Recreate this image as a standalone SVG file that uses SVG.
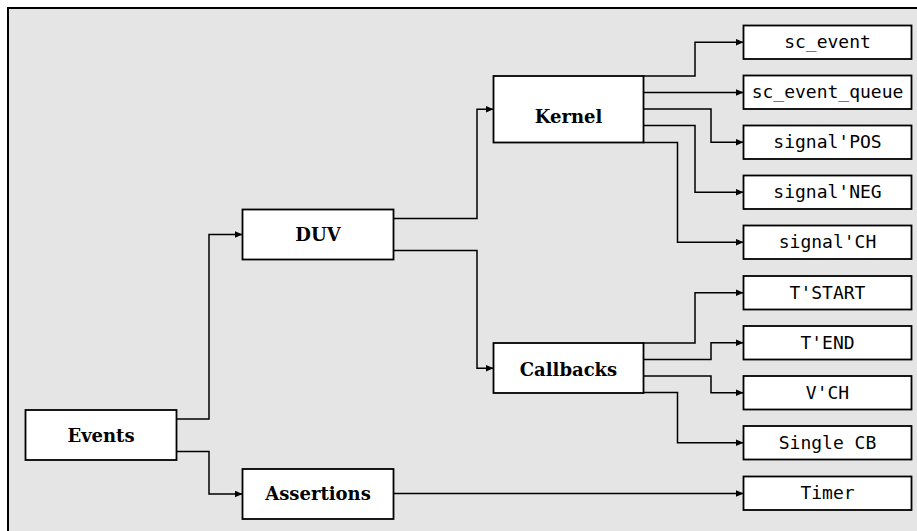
<svg xmlns="http://www.w3.org/2000/svg" width="917" height="531" viewBox="0 0 917 531">
<style>
.frame{fill:#e5e5e5;stroke:#000;stroke-width:2}
.box{fill:#fff;stroke:#000;stroke-width:1.8}
.lbl{font-family:"DejaVu Serif","Liberation Serif",serif;font-weight:bold;font-size:18px;text-anchor:middle;fill:#000}
.leaf{font-family:"DejaVu Sans Mono","Liberation Mono",monospace;font-size:18px;text-anchor:middle;fill:#000}
.c{fill:none;stroke:#000;stroke-width:1.5}
</style>
<defs>
<marker id="ah" markerUnits="userSpaceOnUse" markerWidth="9" markerHeight="8" refX="8" refY="3.5" orient="auto">
<path d="M0,0 L8,3.5 L0,7 z" fill="#000"/>
</marker>
</defs>
<rect class="frame" x="8" y="8" width="930" height="540"/>
<g id="connectors">
<path class="c" marker-end="url(#ah)" d="M176,419 H209 V234.5 H242.5"/>
<path class="c" marker-end="url(#ah)" d="M176,451.5 H209 V494 H242.5"/>
<path class="c" marker-end="url(#ah)" d="M393.5,218.5 H477 V109.3 H493.5"/>
<path class="c" marker-end="url(#ah)" d="M393.5,250.5 H477 V368.3 H493.5"/>
<path class="c" marker-end="url(#ah)" d="M393.5,493.5 H743.5"/>
<path class="c" marker-end="url(#ah)" d="M643.5,76 H695 V42.25 H743.5"/>
<path class="c" marker-end="url(#ah)" d="M643.5,92.5 H743.5"/>
<path class="c" marker-end="url(#ah)" d="M643.5,109 H711 V142.25 H743.5"/>
<path class="c" marker-end="url(#ah)" d="M643.5,125.5 H695 V192.25 H743.5"/>
<path class="c" marker-end="url(#ah)" d="M643.5,142.5 H677.5 V242.25 H743.5"/>
<path class="c" marker-end="url(#ah)" d="M643.5,343 H695 V292.75 H743.5"/>
<path class="c" marker-end="url(#ah)" d="M643.5,359.5 H711 V342.75 H743.5"/>
<path class="c" marker-end="url(#ah)" d="M643.5,376 H711 V392.75 H743.5"/>
<path class="c" marker-end="url(#ah)" d="M643.5,392.5 H677.5 V442.75 H743.5"/>
</g>
<g id="events"><rect class="box" x="25.5" y="410" width="151" height="50"/><text class="lbl" x="101" y="441.5">Events</text></g>
<g id="duv"><rect class="box" x="242.5" y="209.5" width="151" height="50"/><text class="lbl" x="318" y="240.5">DUV</text></g>
<g id="assertions"><rect class="box" x="242.5" y="469" width="151" height="50"/><text class="lbl" x="318" y="500">Assertions</text></g>
<g id="kernel"><rect class="box" x="493.5" y="76" width="150" height="66.5"/><text class="lbl" x="568.5" y="123">Kernel</text></g>
<g id="callbacks"><rect class="box" x="493.5" y="343" width="150" height="50"/><text class="lbl" x="568.5" y="375.5">Callbacks</text></g>
<g id="sc_event"><rect class="box" x="743.5" y="25.5" width="168" height="33.5"/><text class="leaf" x="827.5" y="47.8">sc_event</text></g>
<g id="sc_event_queue"><rect class="box" x="743.5" y="75.5" width="168" height="33.5"/><text class="leaf" x="827.5" y="97.8">sc_event_queue</text></g>
<g id="signal_pos"><rect class="box" x="743.5" y="125.5" width="168" height="33.5"/><text class="leaf" x="827.5" y="148.3">signal'POS</text></g>
<g id="signal_neg"><rect class="box" x="743.5" y="175.5" width="168" height="33.5"/><text class="leaf" x="827.5" y="198.3">signal'NEG</text></g>
<g id="signal_ch"><rect class="box" x="743.5" y="225.5" width="168" height="33.5"/><text class="leaf" x="827.5" y="248.3">signal'CH</text></g>
<g id="t_start"><rect class="box" x="743.5" y="276" width="168" height="33.5"/><text class="leaf" x="827.5" y="298.8">T'START</text></g>
<g id="t_end"><rect class="box" x="743.5" y="326" width="168" height="33.5"/><text class="leaf" x="827.5" y="348.8">T'END</text></g>
<g id="v_ch"><rect class="box" x="743.5" y="376" width="168" height="33.5"/><text class="leaf" x="827.5" y="398.8">V'CH</text></g>
<g id="single_cb"><rect class="box" x="743.5" y="426" width="168" height="33.5"/><text class="leaf" x="827.5" y="448.8">Single CB</text></g>
<g id="timer"><rect class="box" x="743.5" y="476.5" width="168" height="33.5"/><text class="leaf" x="827.5" y="499.3">Timer</text></g>
</svg>
